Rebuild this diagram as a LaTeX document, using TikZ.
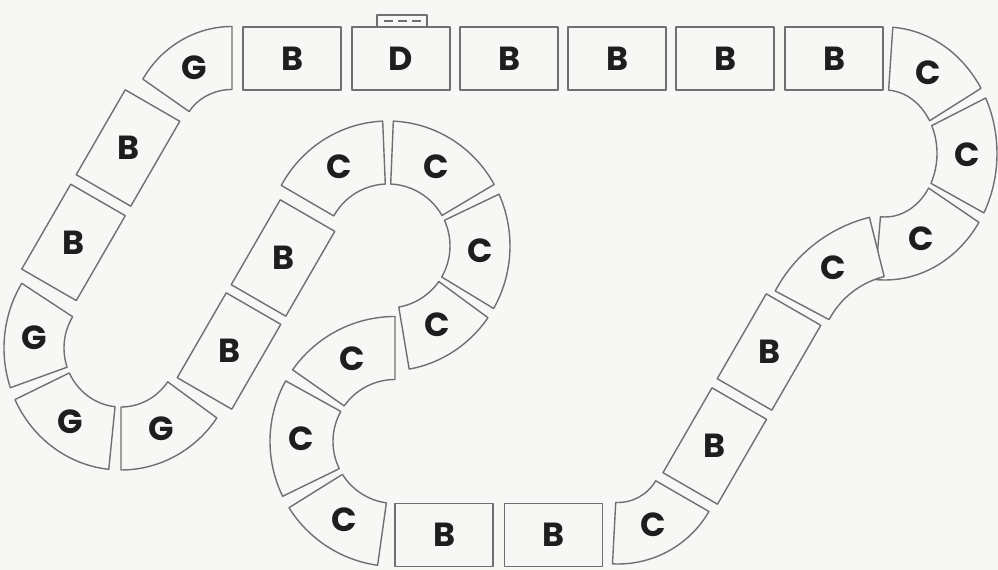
\documentclass[tikz,border=0pt]{standalone}
\usepackage{fontspec}
\setsansfont{Poppins}
\usetikzlibrary{calc}
\definecolor{paper}{HTML}{F7F7F5}
\definecolor{edge}{HTML}{707070}
\definecolor{ink}{HTML}{1E1E1E}
\tikzset{
  piece/.style={draw=edge, line width=0.8pt, fill=paper, line join=round},
  lbl/.style={font=\sffamily\bfseries\fontsize{19}{19}\selectfont, text=ink},
}
% straight square: name, centre, direction, letter
\newcommand{\bpiece}[4]{%
  \draw[piece] ($(#2)+(#3:49)+({#3+90}:31.5)$) -- ($(#2)+(#3:49)+({#3-90}:31.5)$)
    -- ($(#2)+({#3+180}:49)+({#3-90}:31.5)$) -- ($(#2)+({#3+180}:49)+({#3+90}:31.5)$) -- cycle;
  \node[lbl] (#1) at (#2) {#4};}
% curved square: name, centre, from angle, to angle, letter
\newcommand{\setradii}[4]{\def\rxi{#1}\def\ryi{#2}\def\rxo{#3}\def\ryo{#4}}
\newcommand{\cpiece}[5]{%
  \pgfmathsetmacro\am{(#3+#4)/2}%
  \pgfmathsetmacro\rxm{(\rxi+\rxo)/2}%
  \pgfmathsetmacro\rym{(\ryi+\ryo)/2}%
  \draw[piece] ($(#2)+(#3:{\rxo} and {\ryo})$) arc[start angle=#3, end angle=#4, x radius=\rxo, y radius=\ryo]
    -- ($(#2)+(#4:{\rxi} and {\ryi})$) arc[start angle=#4, end angle=#3, x radius=\rxi, y radius=\ryi] -- cycle;
  \node[lbl] (#1) at ($(#2)+(\am:{\rxm} and {\rym})$) {#5};}

\begin{document}
\begin{tikzpicture}[x=0.02cm, y=-0.02cm]
\fill[paper] (0,0) rectangle (998,570);
\useasboundingbox (0,0) rectangle (998,570);

% top left bend
\setradii{50}{45.5}{104}{108.5}
\cpiece{gtop}{232,135}{211}{270}{G}

% top straight
\draw[piece] (377,26) -- (377,15) -- (427,15) -- (427,26);
\draw[edge, line width=1.2pt, dash pattern=on 5pt off 3pt] (384,21) -- (421,21);
\bpiece{b1}{292,58.5}{0}{B}
\bpiece{dstart}{401,58.5}{0}{D}
\bpiece{b2}{509,58.5}{0}{B}
\bpiece{b3}{617,58.5}{0}{B}
\bpiece{b4}{725,58.5}{0}{B}
\bpiece{b5}{834,58.5}{0}{B}

% right loop
\setradii{52}{63.5}{112}{126.5}
\cpiece{c1}{885,153.5}{274}{329}{C}
\cpiece{c2}{885,153.5}{334}{388}{C}
\cpiece{c3}{885,153.5}{33}{95}{C}
\setradii{86}{86}{147}{147}
\cpiece{c4}{905,360}{256}{208}{C}

% right diagonal
\bpiece{b6}{769,352}{120}{B}
\bpiece{b7}{714.75,446}{120}{B}
\setradii{43.5}{43.5}{105}{105}
\cpiece{c5}{618,459}{30}{93}{C}

% bottom straight
\bpiece{b8}{553.5,535}{0}{B}
\bpiece{b9}{444,535}{0}{B}

% lower inner loop
\setradii{62}{62}{125}{125}
\cpiece{c6}{395,441.5}{98}{148}{C}
\cpiece{c7}{395,441.5}{154}{209}{C}
\cpiece{c8}{395,441.5}{215}{270}{C}

% upper inner loop
\setradii{62}{62}{122}{125}
\cpiece{c9}{388,246}{80}{35}{C}
\cpiece{c10}{388,246}{30}{-24.5}{C}
\cpiece{c11}{388,246}{-29.5}{-87.5}{C}
\cpiece{c12}{388,246}{-92.5}{-151}{C}

% middle diagonal
\bpiece{b10}{283,258}{120}{B}
\bpiece{b11}{229,351}{120}{B}

% bottom left loop
\setradii{57}{59}{117}{122}
\cpiece{g1}{121,348}{35}{90}{G}
\cpiece{g2}{121,348}{96}{155}{G}
\cpiece{g3}{121,348}{161}{212}{G}

% left diagonal
\bpiece{b12}{73.5,242.4}{120}{B}
\bpiece{b13}{128,148}{120}{B}
\end{tikzpicture}
\end{document}
